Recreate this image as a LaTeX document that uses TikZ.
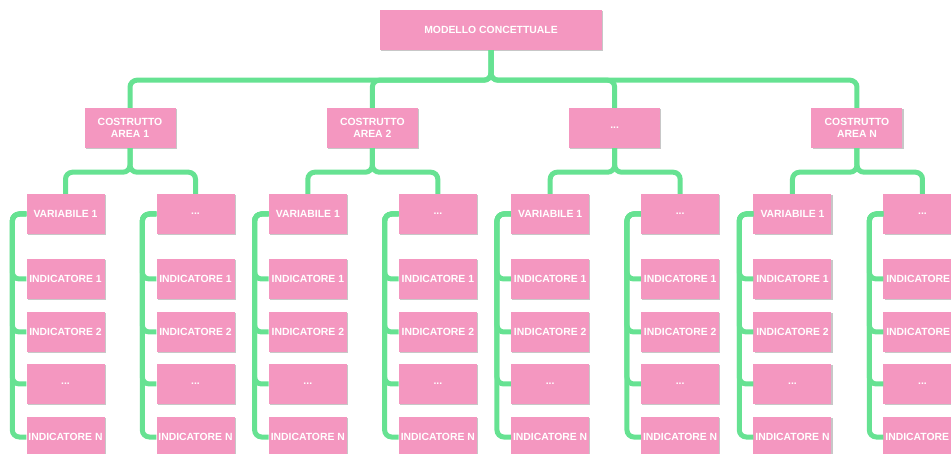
\documentclass[tikz,border=0pt]{standalone}
\usepackage{fontspec}
\setmainfont{Liberation Sans}
\usetikzlibrary{shadows}
\definecolor{boxpink}{RGB}{244,151,192}
\definecolor{linkgreen}{RGB}{102,226,146}
\tikzset{
  box/.style={fill=boxpink, text=white, font=\bfseries\fontsize{10.4}{12}\selectfont,
    minimum width=78pt, minimum height=40pt, inner sep=0pt, align=center,
    drop shadow={shadow xshift=1.3pt, shadow yshift=-1.3pt, fill=black!22, opacity=1}},
  link/.style={draw=linkgreen, line width=5pt, rounded corners=7pt},
}
\begin{document}
\begin{tikzpicture}[x=1pt,y=1pt]
\useasboundingbox (0,0) rectangle (951,-454);
\clip (0,0) rectangle (951,-454);
\node[box, minimum width=222pt] (top) at (491,-30) {MODELLO CONCETTUALE};
\foreach \i/\lab in {1/{COSTRUTTO\\AREA 1}, 2/{COSTRUTTO\\AREA 2}, 3/{...}, 4/{COSTRUTTO\\AREA N}} {
  \pgfmathsetmacro\ax{130+242.33*(\i-1)}
  \node[box, minimum width=91pt] (a\i) at (\ax,-128) {\lab};
  \draw[link] (top.south) -- ++(0,-30) -| (a\i.north);
  \foreach \j/\off/\vl in {1/-64.5/{VARIABILE 1}, 2/65.5/{...}} {
    \pgfmathsetmacro\cx{\ax+\off}
    \node[box] (v\i\j) at (\cx,-214) {\vl};
    \draw[link] (a\i.south) -- ++(0,-24) -| (v\i\j.north);
    \foreach \k/\yy/\il in {1/279/{INDICATORE 1}, 2/332/{INDICATORE 2}, 3/384/{...}, 4/437/{INDICATORE N}} {
      \node[box] (n\i\j\k) at (\cx,-\yy) {\il};
      \draw[link] (v\i\j.west) -- ++(-14,0) |- (n\i\j\k.west);
    }
  }
}
\end{tikzpicture}
\end{document}
